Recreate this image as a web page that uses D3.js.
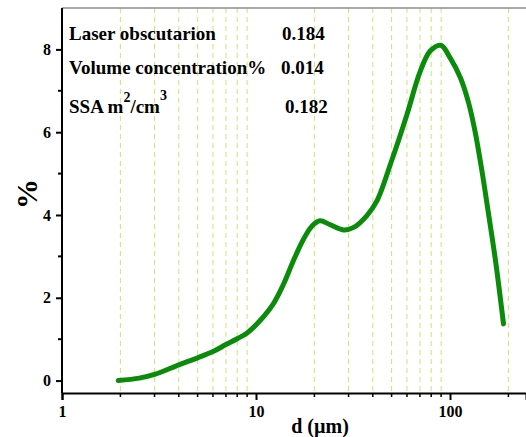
<!DOCTYPE html>
<html>
<head>
<meta charset="utf-8">
<script src="https://cdn.jsdelivr.net/npm/d3@7"></script>
<style>
  body { margin: 0; background: #fff; }
  svg text { font-family: "Liberation Serif", "Times New Roman", serif; font-weight: bold; }
</style>
</head>
<body>
<svg width="526" height="437"></svg>
<script>
// particle size distribution
const sizes = [1.95, 2.5, 3, 4, 5, 6, 7, 8, 9, 10.5, 12.3, 13.9, 15.6, 17.6, 19.5, 21.4, 24, 28.2, 31.9, 37.2, 42, 50, 60, 70, 79, 89.7, 100, 113, 124, 134.5, 146, 159, 172.5, 188.7];
const percents = [0.0, 0.06, 0.15, 0.38, 0.55, 0.70, 0.87, 1.01, 1.15, 1.45, 1.86, 2.34, 2.90, 3.42, 3.74, 3.86, 3.77, 3.64, 3.70, 3.98, 4.34, 5.31, 6.43, 7.45, 7.96, 8.10, 7.80, 7.32, 6.75, 6.03, 5.07, 3.94, 2.82, 1.37];

const xMajor = [1, 10, 100];
const xMinor = [2, 3, 4, 5, 6, 7, 8, 9, 20, 30, 40, 50, 60, 70, 80, 90, 200];
const yMajor = [0, 2, 4, 6, 8];
const yMinor = [1, 3, 5, 7];

const infoLabels = ["Laser obscutarion", "Volume concentration%", "SSA"];
const infoValues = ["0.184", "0.014", "0.182"];

const svg = d3.select('svg');
const width = +svg.attr('width');
const height = +svg.attr('height');
const margin = { top: 8, right: 0, bottom: 44, left: 62 };

const x = d3.scaleLog()
    .domain([1, 10 ** ((width - margin.left) / 194)])
    .range([margin.left, width]);
const y = d3.scaleLinear()
    .domain([-0.3, 9])
    .range([height - margin.bottom, margin.top]);

// dashed minor grid
svg.append('g')
    .selectAll('line')
    .data(xMinor)
    .enter().append('line')
    .attr('x1', d => x(d)).attr('x2', d => x(d))
    .attr('y1', margin.top).attr('y2', y(-0.3))
    .attr('stroke', '#c6e872')
    .attr('stroke-width', 1)
    .attr('stroke-dasharray', '5,4');

// top frame
svg.append('line')
    .attr('x1', margin.left).attr('x2', width)
    .attr('y1', margin.top).attr('y2', margin.top)
    .attr('stroke', '#8c8c8c').attr('stroke-width', 1.5);

// bottom axis
const xAxis = svg.append('g')
    .attr('transform', `translate(0, ${y(-0.3)})`)
    .call(d3.axisBottom(x).tickValues(xMajor).tickFormat(d3.format('d')).tickSize(7).tickPadding(6))
    .call(g => g.select('.domain').attr('stroke-width', 2));
xAxis.selectAll('.tick line').attr('stroke-width', 2);
xAxis.selectAll('text').attr('font-size', 16).attr('fill', '#000')
    .style('font-family', '"Liberation Serif", serif').style('font-weight', 'bold');
xAxis.append('g')
    .selectAll('line')
    .data(xMinor)
    .enter().append('line')
    .attr('x1', d => x(d)).attr('x2', d => x(d))
    .attr('y1', 0).attr('y2', 4)
    .attr('stroke', '#000').attr('stroke-width', 1.5);

// left axis
const yAxis = svg.append('g')
    .attr('transform', `translate(${margin.left}, 0)`)
    .call(d3.axisLeft(y).tickValues(yMajor).tickSize(6).tickPadding(5))
    .call(g => g.select('.domain').attr('stroke-width', 2).attr('d', `M0,${margin.top}V${y(-0.3)}`));
yAxis.selectAll('.tick line').attr('stroke-width', 2);
yAxis.selectAll('text').attr('font-size', 16).attr('fill', '#000')
    .style('font-family', '"Liberation Serif", serif').style('font-weight', 'bold');
yAxis.append('g')
    .selectAll('line')
    .data(yMinor)
    .enter().append('line')
    .attr('x1', -4).attr('x2', 0)
    .attr('y1', d => y(d)).attr('y2', d => y(d))
    .attr('stroke', '#000').attr('stroke-width', 2);

// axis titles
svg.append('text')
    .attr('x', 320).attr('y', 433)
    .attr('text-anchor', 'middle')
    .attr('font-size', 20)
    .text('d (\u00b5m)');
svg.append('text')
    .attr('transform', 'translate(37, 194) rotate(-90)')
    .attr('text-anchor', 'middle')
    .attr('font-size', 30)
    .text('%');

// curve
const line = d3.line()
    .x((d, i) => x(sizes[i]))
    .y(d => y(d))
    .curve(d3.curveCatmullRom.alpha(0.5));
svg.append('path')
    .datum(percents)
    .attr('d', line)
    .attr('fill', 'none')
    .attr('stroke', '#0a8c0a')
    .attr('stroke-width', 5)
    .attr('stroke-linecap', 'round')
    .attr('stroke-linejoin', 'round');

// info block
const infoY = [40, 74, 113];
const valueX = [282, 281, 285];
infoLabels.forEach((t, i) => {
    const txt = svg.append('text')
        .attr('x', 69).attr('y', infoY[i])
        .attr('font-size', 19)
        .text(t);
    if (i == 2) {
        txt.append('tspan').text(' m');
        txt.append('tspan').attr('dy', -11).attr('font-size', 14).text('2');
        txt.append('tspan').attr('dy', 11).text('/cm');
        txt.append('tspan').attr('dy', -13).attr('font-size', 14).text('3');
    }
    svg.append('text')
        .attr('x', valueX[i]).attr('y', infoY[i])
        .attr('font-size', 19)
        .text(infoValues[i]);
});
</script>
</body>
</html>
